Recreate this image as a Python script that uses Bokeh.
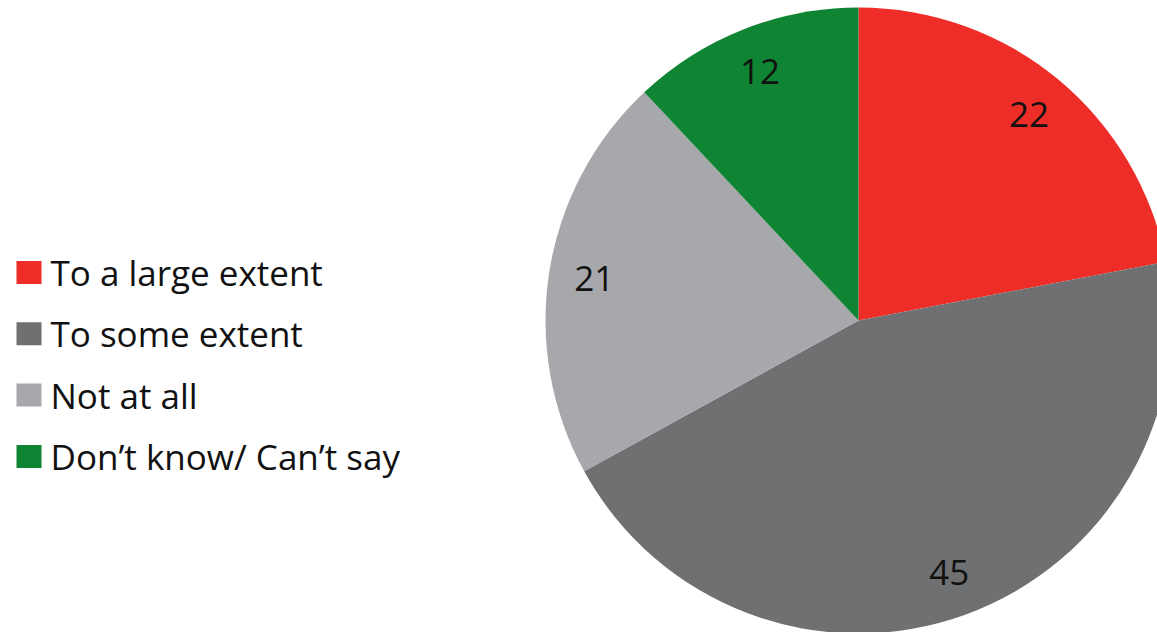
import math
from bokeh.plotting import figure
from bokeh.models import ColumnDataSource
from bokeh.core.properties import value
from bokeh.embed import file_html
from bokeh.resources import INLINE

categories = ["To a large extent", "To some extent", "Not at all", "Don\u2019t know/ Can\u2019t say"]
values = [22, 45, 21, 12]
colors = ["#EE2D28", "#6F7072", "#A7A8AB", "#0F8432"]

W, H = 1157, 632
cx, cy, R = 858, 312, 313
FONT = "Open Sans"

total = sum(values)
starts, ends, lx, ly = [], [], [], []
acc = 0.0
for v in values:
    a0 = math.pi / 2 - 2 * math.pi * acc / total
    a1 = math.pi / 2 - 2 * math.pi * (acc + v) / total
    starts.append(a1)
    ends.append(a0)
    mid = (a0 + a1) / 2
    lx.append(cx + 0.855 * R * math.cos(mid))
    ly.append(cy + 0.855 * R * math.sin(mid))
    acc += v

src = ColumnDataSource(dict(start=starts, end=ends, color=colors, cat=categories,
                            lx=lx, ly=ly, lab=[str(v) for v in values]))

p = figure(width=W, height=H, x_range=(0, W), y_range=(0, H), output_backend="svg",
           toolbar_location=None, min_border=0, outline_line_color=None)
p.axis.visible = False
p.grid.visible = False
p.background_fill_color = "white"

p.wedge(x=cx, y=cy, radius=R, start_angle="start", end_angle="end",
        fill_color="color", line_color=None, source=src)
p.text(x="lx", y="ly", text="lab", text_align="center", text_baseline="middle",
       text_font=value(FONT), text_font_size="35px", text_color="#111111", source=src)

# legend drawn manually
n = len(categories)
leg_y = [H - (272 + 61.3 * i) for i in range(n)]
leg_src = ColumnDataSource(dict(x=[28.5] * n, y=leg_y, tx=[50] * n, cat=categories, color=colors))
p.rect(x="x", y="y", width=25, height=23, fill_color="color", line_color=None, source=leg_src)
p.text(x="tx", y="y", text="cat", text_align="left", text_baseline="middle",
       text_font=value(FONT), text_font_size="35px", text_color="#111111", source=leg_src)

open("out.html", "w").write(file_html(p, INLINE))
